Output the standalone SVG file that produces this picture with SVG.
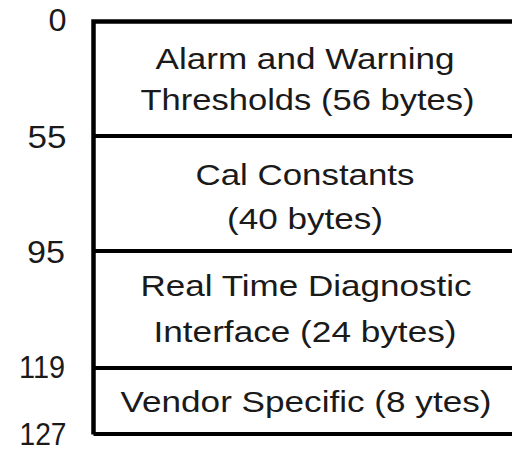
<svg xmlns="http://www.w3.org/2000/svg" width="512" height="450" viewBox="0 0 512 450">
<style>
.t{font-family:"Liberation Sans",Arial,sans-serif;font-size:29.5px;fill:#1a1a1a;text-anchor:middle}
.n{font-family:"Liberation Sans",Arial,sans-serif;font-size:31px;fill:#1a1a1a;text-anchor:end}
.ln{stroke:#000;stroke-width:4.5;fill:none}
</style>
<rect width="512" height="450" fill="#fff"/>
<g id="frame">
<path class="ln" d="M93.5 434.5 V21.5 H512"/>
<path class="ln" d="M93.5 136 H512 M93.5 251 H512 M93.5 368 H512 M93.5 434 H512" style="stroke-width:4"/>
</g>
<g id="offsets">
<text class="n" x="66.5" y="31" textLength="18" lengthAdjust="spacingAndGlyphs">0</text>
<text class="n" x="66.5" y="147.5" textLength="39" lengthAdjust="spacingAndGlyphs">55</text>
<text class="n" x="65" y="263" textLength="38" lengthAdjust="spacingAndGlyphs">95</text>
<text class="n" x="65" y="377.5" textLength="46" lengthAdjust="spacingAndGlyphs">119</text>
<text class="n" x="66.5" y="444.5" textLength="47" lengthAdjust="spacingAndGlyphs">127</text>
</g>
<g id="alarm">
<text class="t" x="305" y="68.5" textLength="299" lengthAdjust="spacingAndGlyphs">Alarm and Warning</text>
<text class="t" x="307.5" y="109.5" textLength="334" lengthAdjust="spacingAndGlyphs">Thresholds (56 bytes)</text>
</g>
<g id="cal">
<text class="t" x="305" y="185" textLength="219" lengthAdjust="spacingAndGlyphs">Cal Constants</text>
<text class="t" x="305" y="229" textLength="156" lengthAdjust="spacingAndGlyphs">(40 bytes)</text>
</g>
<g id="rtdi">
<text class="t" x="306" y="296" textLength="331" lengthAdjust="spacingAndGlyphs">Real Time Diagnostic</text>
<text class="t" x="305" y="341.5" textLength="303" lengthAdjust="spacingAndGlyphs">Interface (24 bytes)</text>
</g>
<g id="vendor">
<text class="t" x="306" y="411.5" textLength="371" lengthAdjust="spacingAndGlyphs">Vendor Specific (8 ytes)</text>
</g>
</svg>
